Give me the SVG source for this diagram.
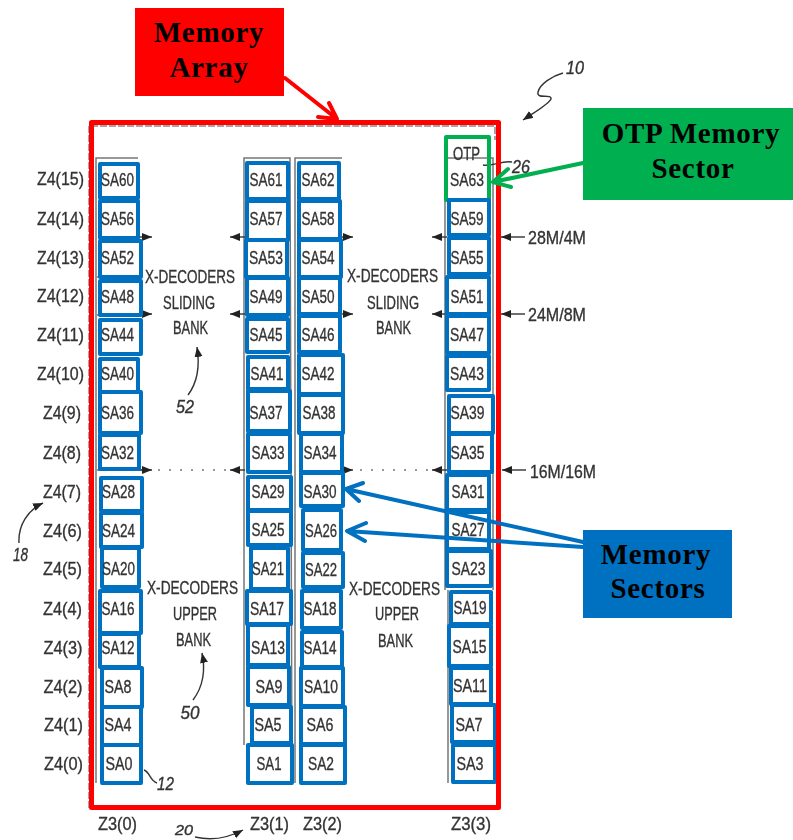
<svg xmlns="http://www.w3.org/2000/svg" width="793" height="840" viewBox="0 0 793 840">
<style>
.bg{fill:#fff}
.s{fill:none;stroke:#0070c0;stroke-width:4;stroke-linejoin:round}
.g{fill:none;stroke:#00b050;stroke-width:4;stroke-linejoin:round}
text{font-family:"Liberation Sans",Arial,sans-serif;fill:#333;stroke:#333;stroke-width:.35;text-anchor:middle;font-size:19px;filter:blur(.45px)}
.ref{font-style:italic}
.box{font-family:"Liberation Serif","Times New Roman",serif;font-weight:bold;font-size:29px;letter-spacing:.7px;fill:#000;stroke:none;filter:none}
.grey{fill:none;stroke:#777;stroke-width:1.5}
.dash{fill:none;stroke:#888;stroke-width:1.5;stroke-dasharray:7 2}
.dots{fill:none;stroke:#999;stroke-width:2;stroke-dasharray:2 9}
.thin{fill:none;stroke:#333;stroke-width:1.4}
.thinhead{fill:none;stroke:#333;stroke-width:1.4;marker-end:url(#h)}
.red{fill:none;stroke:#f00;stroke-width:4;stroke-linecap:round;stroke-linejoin:round}
.grn{fill:none;stroke:#00b050;stroke-width:4;stroke-linecap:round;stroke-linejoin:round}
.blu{fill:none;stroke:#0070c0;stroke-width:4;stroke-linecap:round;stroke-linejoin:round}
</style>
<defs>
<marker id="h" markerUnits="userSpaceOnUse" markerWidth="12" markerHeight="10" refX="10" refY="4" orient="auto"><path d="M0 0L10 4L0 8Z" fill="#222"/></marker>
</defs>
<rect class="bg" width="793" height="840"/>
<g id="patent-frame">
<path class="dash" d="M89 808V126H495V140"/>
<path class="grey" d="M96 783V158H138M142 277H97M142 315H97M142 470H97M244 745V158H290L292 783M295 783L295 158H342M445 590V158H493V590M448 590V783"/>
</g>
<g id="connectors">
<path class="thinhead" d="M140 237H152"/><path class="thinhead" d="M245 237H230"/><path class="thinhead" d="M342 237H353"/><path class="thinhead" d="M447 237H432"/>
<path class="thinhead" d="M140 314H152"/><path class="thinhead" d="M245 314H230"/><path class="thinhead" d="M342 314H353"/><path class="thinhead" d="M447 314H432"/>
<path class="thinhead" d="M140 470H152"/><path class="thinhead" d="M245 470H230"/><path class="thinhead" d="M342 470H353"/><path class="thinhead" d="M447 470H432"/>
<path class="dots" d="M158 470H228M360 470H430"/>
<path class="thinhead" d="M525 237H501"/><path class="thinhead" d="M525 314H501"/><path class="thinhead" d="M526 470H502"/>
<path class="thinhead" d="M188 395C197 383 200 366 197 347"/>
<path class="thinhead" d="M193 700C202 688 206 672 202 653"/>
<path class="thinhead" d="M19 543C18 525 28 510 43 503"/>
<path class="thin" d="M144 770C150 772 150 781 157 783"/>
<path class="thinhead" d="M195 837C212 841 228 838 243 830"/>
<path class="thinhead" d="M563 73C552 76 540 84 538 92C536 100 552 93 551 99C549 104 535 112 523 120"/>
<path class="thin" d="M483 165C492 167 502 160 512 162"/>
</g>
<g id="node-SA60"><rect class="s" x="100" y="164" width="38" height="34"/><text x="117.5" y="186" textLength="33" lengthAdjust="spacingAndGlyphs">SA60</text></g>
<g id="node-SA56"><rect class="s" x="100" y="201" width="38" height="37"/><text x="117.5" y="225" textLength="33" lengthAdjust="spacingAndGlyphs">SA56</text></g>
<g id="node-SA52"><rect class="s" x="100" y="241" width="41" height="36"/><text x="117.5" y="264" textLength="33" lengthAdjust="spacingAndGlyphs">SA52</text></g>
<g id="node-SA48"><rect class="s" x="100" y="281" width="41" height="34"/><text x="117.5" y="303" textLength="33" lengthAdjust="spacingAndGlyphs">SA48</text></g>
<g id="node-SA44"><rect class="s" x="100" y="320" width="41" height="34"/><text x="117.5" y="341" textLength="33" lengthAdjust="spacingAndGlyphs">SA44</text></g>
<g id="node-SA40"><rect class="s" x="100" y="359" width="38" height="33"/><text x="117.5" y="380" textLength="33" lengthAdjust="spacingAndGlyphs">SA40</text></g>
<g id="node-SA36"><rect class="s" x="100" y="392" width="41" height="41"/><text x="117.5" y="419" textLength="33" lengthAdjust="spacingAndGlyphs">SA36</text></g>
<g id="node-SA32"><rect class="s" x="100" y="435" width="39" height="34"/><text x="117.5" y="459" textLength="33" lengthAdjust="spacingAndGlyphs">SA32</text></g>
<g id="node-SA28"><rect class="s" x="101" y="478" width="41" height="33"/><text x="118.5" y="498" textLength="33" lengthAdjust="spacingAndGlyphs">SA28</text></g>
<g id="node-SA24"><rect class="s" x="101" y="513" width="41" height="34"/><text x="118.5" y="537" textLength="33" lengthAdjust="spacingAndGlyphs">SA24</text></g>
<g id="node-SA20"><rect class="s" x="102" y="548" width="37" height="39"/><text x="118.5" y="575" textLength="33" lengthAdjust="spacingAndGlyphs">SA20</text></g>
<g id="node-SA16"><rect class="s" x="100" y="591" width="41" height="42"/><text x="118" y="615" textLength="33" lengthAdjust="spacingAndGlyphs">SA16</text></g>
<g id="node-SA12"><rect class="s" x="100" y="634" width="39" height="33"/><text x="118" y="654" textLength="33" lengthAdjust="spacingAndGlyphs">SA12</text></g>
<g id="node-SA8"><rect class="s" x="102" y="668" width="40" height="39"/><text x="118" y="693" textLength="27" lengthAdjust="spacingAndGlyphs">SA8</text></g>
<g id="node-SA4"><rect class="s" x="102" y="707" width="39" height="38"/><text x="118" y="731" textLength="27" lengthAdjust="spacingAndGlyphs">SA4</text></g>
<g id="node-SA0"><rect class="s" x="102" y="745" width="39" height="38"/><text x="119" y="770" textLength="27" lengthAdjust="spacingAndGlyphs">SA0</text></g>

<g id="node-SA61"><rect class="s" x="247" y="163" width="41" height="36"/><text x="266" y="186" textLength="33" lengthAdjust="spacingAndGlyphs">SA61</text></g>
<g id="node-SA57"><rect class="s" x="247" y="201" width="41" height="39"/><text x="266" y="225" textLength="33" lengthAdjust="spacingAndGlyphs">SA57</text></g>
<g id="node-SA53"><rect class="s" x="246" y="240" width="41" height="37"/><text x="266" y="264" textLength="34" lengthAdjust="spacingAndGlyphs">SA53</text></g>
<g id="node-SA49"><rect class="s" x="247" y="278" width="41" height="37"/><text x="266" y="303" textLength="33" lengthAdjust="spacingAndGlyphs">SA49</text></g>
<g id="node-SA45"><rect class="s" x="247" y="319" width="41" height="33"/><text x="266" y="341" textLength="33" lengthAdjust="spacingAndGlyphs">SA45</text></g>
<g id="node-SA41"><rect class="s" x="248" y="357" width="40" height="32"/><text x="267" y="380" textLength="33" lengthAdjust="spacingAndGlyphs">SA41</text></g>
<g id="node-SA37"><rect class="s" x="248" y="391" width="42" height="40"/><text x="266" y="419" textLength="33" lengthAdjust="spacingAndGlyphs">SA37</text></g>
<g id="node-SA33"><rect class="s" x="248" y="434" width="42" height="38"/><text x="268" y="459" textLength="33" lengthAdjust="spacingAndGlyphs">SA33</text></g>
<g id="node-SA29"><rect class="s" x="248" y="477" width="43" height="33"/><text x="268" y="498" textLength="33" lengthAdjust="spacingAndGlyphs">SA29</text></g>
<g id="node-SA25"><rect class="s" x="248" y="511" width="43" height="34"/><text x="268" y="536" textLength="33" lengthAdjust="spacingAndGlyphs">SA25</text></g>
<g id="node-SA21"><rect class="s" x="251" y="548" width="37" height="41"/><text x="268" y="575" textLength="32" lengthAdjust="spacingAndGlyphs">SA21</text></g>
<g id="node-SA17"><rect class="s" x="247" y="591" width="44" height="33"/><text x="267" y="615" textLength="34" lengthAdjust="spacingAndGlyphs">SA17</text></g>
<g id="node-SA13"><rect class="s" x="248" y="625" width="40" height="40"/><text x="268" y="654" textLength="34" lengthAdjust="spacingAndGlyphs">SA13</text></g>
<g id="node-SA9"><rect class="s" x="248" y="667" width="41" height="38"/><text x="269" y="693" textLength="27" lengthAdjust="spacingAndGlyphs">SA9</text></g>
<g id="node-SA5"><rect class="s" x="252" y="707" width="39" height="36"/><text x="268" y="731" textLength="27" lengthAdjust="spacingAndGlyphs">SA5</text></g>
<g id="node-SA1"><rect class="s" x="248" y="745" width="44" height="38"/><text x="269" y="770" textLength="25" lengthAdjust="spacingAndGlyphs">SA1</text></g>

<g id="node-SA62"><rect class="s" x="299" y="163" width="40" height="36"/><text x="318" y="186" textLength="33" lengthAdjust="spacingAndGlyphs">SA62</text></g>
<g id="node-SA58"><rect class="s" x="299" y="201" width="41" height="38"/><text x="318" y="225" textLength="33" lengthAdjust="spacingAndGlyphs">SA58</text></g>
<g id="node-SA54"><rect class="s" x="299" y="240" width="42" height="37"/><text x="318" y="264" textLength="33" lengthAdjust="spacingAndGlyphs">SA54</text></g>
<g id="node-SA50"><rect class="s" x="299" y="278" width="41" height="36"/><text x="318" y="303" textLength="33" lengthAdjust="spacingAndGlyphs">SA50</text></g>
<g id="node-SA46"><rect class="s" x="299" y="316" width="41" height="36"/><text x="318" y="341" textLength="33" lengthAdjust="spacingAndGlyphs">SA46</text></g>
<g id="node-SA42"><rect class="s" x="299" y="355" width="44" height="39"/><text x="318" y="380" textLength="33" lengthAdjust="spacingAndGlyphs">SA42</text></g>
<g id="node-SA38"><rect class="s" x="299" y="395" width="44" height="38"/><text x="319" y="419" textLength="33" lengthAdjust="spacingAndGlyphs">SA38</text></g>
<g id="node-SA34"><rect class="s" x="301" y="434" width="41" height="38"/><text x="320" y="459" textLength="33" lengthAdjust="spacingAndGlyphs">SA34</text></g>
<g id="node-SA30"><rect class="s" x="301" y="473" width="42" height="33"/><text x="320" y="498" textLength="33" lengthAdjust="spacingAndGlyphs">SA30</text></g>
<g id="node-SA26"><rect class="s" x="303" y="510" width="38" height="40"/><text x="321" y="537" textLength="32" lengthAdjust="spacingAndGlyphs">SA26</text></g>
<g id="node-SA22"><rect class="s" x="303" y="553" width="40" height="34"/><text x="321" y="576" textLength="32" lengthAdjust="spacingAndGlyphs">SA22</text></g>
<g id="node-SA18"><rect class="s" x="302" y="591" width="39" height="37"/><text x="320" y="615" textLength="33" lengthAdjust="spacingAndGlyphs">SA18</text></g>
<g id="node-SA14"><rect class="s" x="302" y="632" width="40" height="35"/><text x="320" y="654" textLength="33" lengthAdjust="spacingAndGlyphs">SA14</text></g>
<g id="node-SA10"><rect class="s" x="301" y="668" width="42" height="38"/><text x="321" y="693" textLength="34" lengthAdjust="spacingAndGlyphs">SA10</text></g>
<g id="node-SA6"><rect class="s" x="301" y="707" width="44" height="37"/><text x="320" y="731" textLength="27" lengthAdjust="spacingAndGlyphs">SA6</text></g>
<g id="node-SA2"><rect class="s" x="301" y="745" width="44" height="38"/><text x="321" y="770" textLength="26" lengthAdjust="spacingAndGlyphs">SA2</text></g>

<g id="node-SA63"><rect class="g" x="446" y="137" width="43" height="63"/><text x="466.5" y="160" textLength="27" lengthAdjust="spacingAndGlyphs">OTP</text><text x="467" y="186" textLength="34" lengthAdjust="spacingAndGlyphs">SA63</text></g>
<g id="node-SA59"><rect class="s" x="449" y="200" width="40" height="35"/><text x="467" y="225" textLength="33" lengthAdjust="spacingAndGlyphs">SA59</text></g>
<g id="node-SA55"><rect class="s" x="449" y="238" width="40" height="36"/><text x="467" y="264" textLength="33" lengthAdjust="spacingAndGlyphs">SA55</text></g>
<g id="node-SA51"><rect class="s" x="447" y="277" width="42" height="37"/><text x="467" y="303" textLength="33" lengthAdjust="spacingAndGlyphs">SA51</text></g>
<g id="node-SA47"><rect class="s" x="447" y="316" width="42" height="37"/><text x="467" y="341" textLength="34" lengthAdjust="spacingAndGlyphs">SA47</text></g>
<g id="node-SA43"><rect class="s" x="447" y="356" width="42" height="34"/><text x="467" y="380" textLength="34" lengthAdjust="spacingAndGlyphs">SA43</text></g>
<g id="node-SA39"><rect class="s" x="449" y="396" width="44" height="37"/><text x="467.5" y="419" textLength="34" lengthAdjust="spacingAndGlyphs">SA39</text></g>
<g id="node-SA35"><rect class="s" x="449" y="434" width="43" height="38"/><text x="467.5" y="459" textLength="34" lengthAdjust="spacingAndGlyphs">SA35</text></g>
<g id="node-SA31"><rect class="s" x="447" y="475" width="42" height="35"/><text x="468" y="498" textLength="33" lengthAdjust="spacingAndGlyphs">SA31</text></g>
<g id="node-SA27"><rect class="s" x="447" y="512" width="42" height="37"/><text x="468" y="536" textLength="33" lengthAdjust="spacingAndGlyphs">SA27</text></g>
<g id="node-SA23"><rect class="s" x="447" y="551" width="44" height="35"/><text x="468.5" y="575" textLength="34" lengthAdjust="spacingAndGlyphs">SA23</text></g>
<g id="node-SA19"><rect class="s" x="451" y="592" width="40" height="32"/><text x="470" y="614" textLength="33" lengthAdjust="spacingAndGlyphs">SA19</text></g>
<g id="node-SA15"><rect class="s" x="449" y="626" width="42" height="40"/><text x="469.5" y="653" textLength="34" lengthAdjust="spacingAndGlyphs">SA15</text></g>
<g id="node-SA11"><rect class="s" x="451" y="668" width="40" height="36"/><text x="470" y="692" textLength="34" lengthAdjust="spacingAndGlyphs">SA11</text></g>
<g id="node-SA7"><rect class="s" x="452" y="705" width="43" height="37"/><text x="469" y="731" textLength="27" lengthAdjust="spacingAndGlyphs">SA7</text></g>
<g id="node-SA3"><rect class="s" x="453" y="745" width="42" height="37"/><text x="470" y="770" textLength="27" lengthAdjust="spacingAndGlyphs">SA3</text></g>

<g id="row-labels">
<text x="60.5" y="185" textLength="47" lengthAdjust="spacingAndGlyphs">Z4(15)</text>
<text x="60.5" y="225" textLength="47" lengthAdjust="spacingAndGlyphs">Z4(14)</text>
<text x="60.5" y="264" textLength="47" lengthAdjust="spacingAndGlyphs">Z4(13)</text>
<text x="60.5" y="302" textLength="47" lengthAdjust="spacingAndGlyphs">Z4(12)</text>
<text x="60.5" y="341" textLength="47" lengthAdjust="spacingAndGlyphs">Z4(11)</text>
<text x="60.5" y="380" textLength="47" lengthAdjust="spacingAndGlyphs">Z4(10)</text>
<text x="62" y="419" textLength="38" lengthAdjust="spacingAndGlyphs">Z4(9)</text>
<text x="62" y="459" textLength="38" lengthAdjust="spacingAndGlyphs">Z4(8)</text>
<text x="62" y="498" textLength="38" lengthAdjust="spacingAndGlyphs">Z4(7)</text>
<text x="62.5" y="537" textLength="39" lengthAdjust="spacingAndGlyphs">Z4(6)</text>
<text x="62.5" y="575" textLength="39" lengthAdjust="spacingAndGlyphs">Z4(5)</text>
<text x="62.5" y="615" textLength="39" lengthAdjust="spacingAndGlyphs">Z4(4)</text>
<text x="63" y="654" textLength="39" lengthAdjust="spacingAndGlyphs">Z4(3)</text>
<text x="63" y="693" textLength="39" lengthAdjust="spacingAndGlyphs">Z4(2)</text>
<text x="63.5" y="731" textLength="39" lengthAdjust="spacingAndGlyphs">Z4(1)</text>
<text x="63.5" y="770" textLength="39" lengthAdjust="spacingAndGlyphs">Z4(0)</text>
</g>
<g id="column-labels">
<text x="117.5" y="830" textLength="39" lengthAdjust="spacingAndGlyphs">Z3(0)</text>
<text x="269.5" y="830" textLength="39" lengthAdjust="spacingAndGlyphs">Z3(1)</text>
<text x="322.5" y="830" textLength="39" lengthAdjust="spacingAndGlyphs">Z3(2)</text>
<text x="471" y="830" textLength="40" lengthAdjust="spacingAndGlyphs">Z3(3)</text>
</g>
<g id="bank-labels">
<text x="190" y="283" textLength="90" lengthAdjust="spacingAndGlyphs">X-DECODERS</text>
<text x="189" y="309" textLength="52" lengthAdjust="spacingAndGlyphs">SLIDING</text>
<text x="190.5" y="334" textLength="35" lengthAdjust="spacingAndGlyphs">BANK</text>
<text x="392.5" y="282" textLength="91" lengthAdjust="spacingAndGlyphs">X-DECODERS</text>
<text x="393" y="309" textLength="52" lengthAdjust="spacingAndGlyphs">SLIDING</text>
<text x="393.5" y="334" textLength="35" lengthAdjust="spacingAndGlyphs">BANK</text>
<text x="192.5" y="594" textLength="91" lengthAdjust="spacingAndGlyphs">X-DECODERS</text>
<text x="195" y="620" textLength="44" lengthAdjust="spacingAndGlyphs">UPPER</text>
<text x="193.5" y="646" textLength="35" lengthAdjust="spacingAndGlyphs">BANK</text>
<text x="394.5" y="595" textLength="91" lengthAdjust="spacingAndGlyphs">X-DECODERS</text>
<text x="397" y="620" textLength="44" lengthAdjust="spacingAndGlyphs">UPPER</text>
<text x="395.5" y="647" textLength="35" lengthAdjust="spacingAndGlyphs">BANK</text>
</g>
<g id="reference-labels">
<text class="ref" x="185" y="413" textLength="18" lengthAdjust="spacingAndGlyphs">52</text>
<text class="ref" x="190" y="719" textLength="19" lengthAdjust="spacingAndGlyphs">50</text>
<text class="ref" x="20.5" y="561" textLength="15" lengthAdjust="spacingAndGlyphs">18</text>
<text class="ref" x="165.5" y="790" textLength="17" lengthAdjust="spacingAndGlyphs">12</text>
<text class="ref" x="184" y="835" style="font-size:15px" textLength="18" lengthAdjust="spacingAndGlyphs">20</text>
<text class="ref" x="575" y="74" textLength="18" lengthAdjust="spacingAndGlyphs">10</text>
<text class="ref" x="521" y="173" textLength="18" lengthAdjust="spacingAndGlyphs">26</text>
<text x="557" y="244" textLength="58" lengthAdjust="spacingAndGlyphs">28M/4M</text>
<text x="557" y="321" textLength="58" lengthAdjust="spacingAndGlyphs">24M/8M</text>
<text x="563" y="478" textLength="66" lengthAdjust="spacingAndGlyphs">16M/16M</text>
</g>
<rect id="memory-array-border" x="91.5" y="122.5" width="407" height="685" fill="none" stroke="#f00" stroke-width="5" stroke-linejoin="round"/>
<g id="callout-arrows">
<path class="red" d="M285 78L337 119M329 103L337 119L318 117"/>
<path class="grn" d="M583 163L493 182M508 169L493 182L511 187"/>
<path class="blu" d="M583 542L346 489M363 483L346 489L359 501"/>
<path class="blu" d="M583 547L347 531M366 523L347 531L365 541"/>
</g>
<g id="callout-memory-array"><rect x="135" y="8" width="149" height="88" fill="#f00"/><text class="box" x="209" y="41.5">Memory</text><text class="box" x="209" y="76.5">Array</text></g>
<g id="callout-otp"><rect x="583" y="108" width="210" height="92" fill="#00b050"/><text class="box" x="691" y="143">OTP Memory</text><text class="box" x="693" y="178">Sector</text></g>
<g id="callout-sectors"><rect x="583" y="530" width="149" height="88" fill="#0070c0"/><text class="box" x="656" y="564">Memory</text><text class="box" x="658" y="598">Sectors</text></g>
</svg>
